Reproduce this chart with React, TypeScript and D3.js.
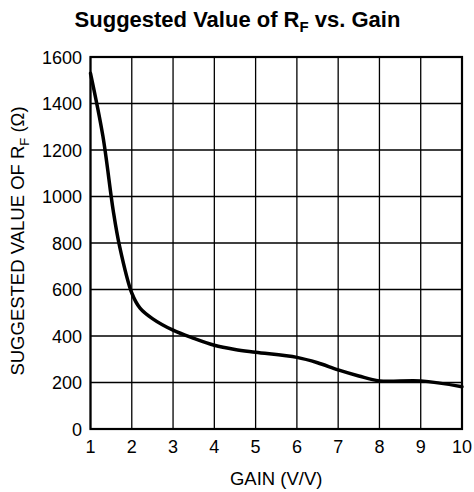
import React from "react";
import * as d3 from "d3";

// Gain (V/V) and suggested feedback resistor (Ω)
const gain = [1.0, 1.3, 1.55, 1.7, 2.0, 2.2, 2.5, 3.0, 3.5, 4.0, 4.5, 5.0, 6.0, 6.5, 7.0, 7.5, 8.0, 9.0, 10.0];
const rf = [1530, 1260, 940, 790, 585, 520, 475, 425, 390, 360, 342, 330, 308, 285, 254, 228, 207, 207, 182];

const xTicks = [1, 2, 3, 4, 5, 6, 7, 8, 9, 10];
const yTicks = [0, 200, 400, 600, 800, 1000, 1200, 1400, 1600];

const W = 474;
const H = 492;
const M = { left: 90.5, right: 462, top: 57, bottom: 429 };
const FONT = "'Liberation Sans', Arial, Helvetica, sans-serif";

export default function App() {
  const x = d3.scaleLinear().domain([1, 10]).range([M.left, M.right]);
  const y = d3.scaleLinear().domain([0, 1600]).range([M.bottom, M.top]);
  const line = d3
    .line<number>()
    .x((_, i) => x(gain[i]))
    .y((d) => y(d))
    .curve(d3.curveCatmullRom.alpha(0.5));

  return (
    <svg
      width={W}
      height={H}
      style={{ position: "absolute", left: 0, top: 0, background: "#fff" }}
      fontFamily={FONT}
    >
      <rect width={W} height={H} fill="#fff" />
      <text x={237.5} y={27} textAnchor="middle" fontSize={22} fontWeight="bold" fill="#000">
        Suggested Value of R<tspan fontSize={15} dy={5}>F</tspan>
        <tspan dy={-5}> vs. Gain</tspan>
      </text>

      {/* grid */}
      {xTicks.map((t) => (
        <line key={"gx" + t} x1={x(t)} x2={x(t)} y1={M.top} y2={M.bottom} stroke="#000" strokeWidth={1.3} />
      ))}
      {yTicks.map((t) => (
        <line key={"gy" + t} x1={M.left} x2={M.right} y1={y(t)} y2={y(t)} stroke="#000" strokeWidth={1.3} />
      ))}
      {/* frame */}
      <rect
        x={M.left}
        y={M.top}
        width={M.right - M.left}
        height={M.bottom - M.top}
        fill="none"
        stroke="#000"
        strokeWidth={2.2}
      />

      {/* curve */}
      <path d={line(rf) ?? ""} fill="none" stroke="#000" strokeWidth={3.5} strokeLinejoin="round" strokeLinecap="round" />

      {/* tick labels */}
      {yTicks.map((t) => (
        <text key={"ty" + t} x={82} y={y(t) + 6.5} textAnchor="end" fontSize={18} fill="#000">
          {t}
        </text>
      ))}
      {xTicks.map((t) => (
        <text key={"tx" + t} x={x(t)} y={453} textAnchor="middle" fontSize={18} fill="#000">
          {t}
        </text>
      ))}

      <text x={(M.left + M.right) / 2} y={485} textAnchor="middle" fontSize={18.5} fill="#000">
        GAIN (V/V)
      </text>
      <text
        transform={`translate(24, ${(M.top + M.bottom) / 2 - 2}) rotate(-90)`}
        textAnchor="middle"
        fontSize={18.5}
        fill="#000"
      >
        SUGGESTED VALUE OF R<tspan fontSize={13} dy={4.5}>F</tspan>
        <tspan dy={-4.5}> (Ω)</tspan>
      </text>
    </svg>
  );
}
